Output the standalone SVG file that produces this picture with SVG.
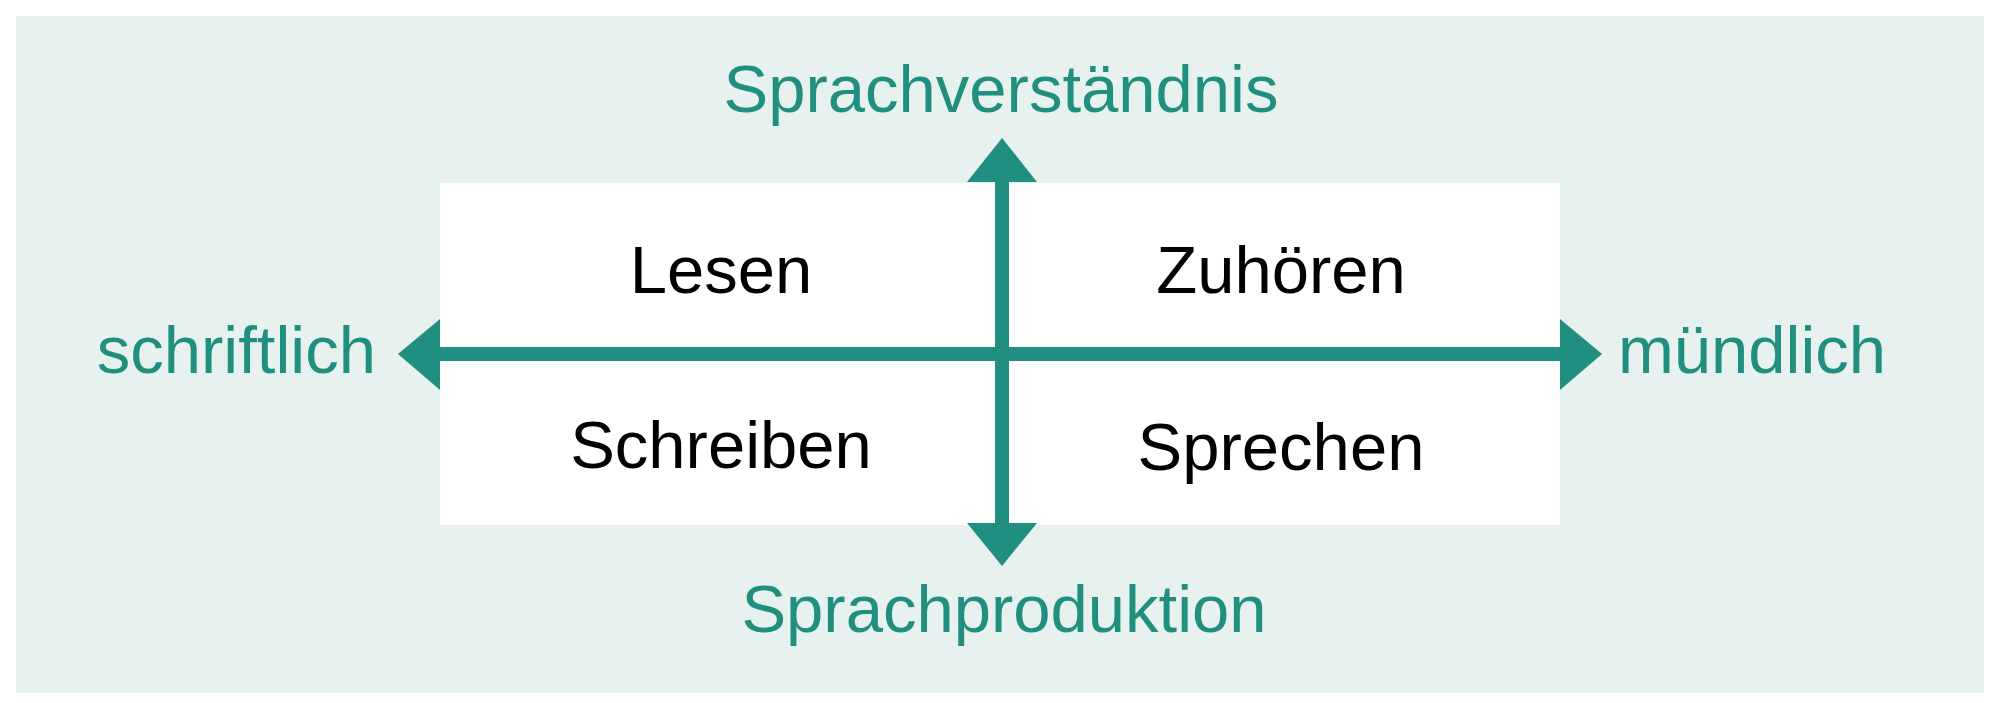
<svg xmlns="http://www.w3.org/2000/svg" width="2000" height="703" viewBox="0 0 2000 703">
<style>
.q{fill:#ffffff;}
.lbl{font-family:"Liberation Sans",Arial,sans-serif;font-size:67px;fill:#000000;text-anchor:middle;}
.ax{font-family:"Liberation Sans",Arial,sans-serif;font-size:67px;fill:#208f7f;}
.shaft{stroke:#208f7f;stroke-width:14;fill:none;}
.head{fill:#208f7f;}
</style>
<rect x="16" y="16" width="1968" height="677" fill="#e7f1ef"/>
<g id="lesen"><rect class="q" x="440" y="183" width="562" height="171"/><text class="lbl" x="721" y="293">Lesen</text></g>
<g id="zuhoeren"><rect class="q" x="1002" y="183" width="558" height="171"/><text class="lbl" x="1281" y="293">Zuhören</text></g>
<g id="schreiben"><rect class="q" x="440" y="354" width="562" height="171"/><text class="lbl" x="721" y="468">Schreiben</text></g>
<g id="sprechen"><rect class="q" x="1002" y="354" width="558" height="171"/><text class="lbl" x="1281" y="470">Sprechen</text></g>
<g id="connectors">
<line class="shaft" x1="440" y1="354" x2="1560" y2="354"/>
<line class="shaft" x1="1002" y1="181" x2="1002" y2="524"/>
<polygon class="head" points="1002,138 1037,182 967,182"/>
<polygon class="head" points="1002,566 1037,523 967,523"/>
<polygon class="head" points="398,354 440,319 440,390"/>
<polygon class="head" points="1602,354 1560,319 1560,390"/>
</g>
<g id="sprachverstaendnis"><text class="ax" x="1001" y="112" text-anchor="middle">Sprachverständnis</text></g>
<g id="sprachproduktion"><text class="ax" x="1004" y="632" text-anchor="middle">Sprachproduktion</text></g>
<g id="schriftlich"><text class="ax" x="376" y="373" text-anchor="end">schriftlich</text></g>
<g id="muendlich"><text class="ax" x="1618" y="373">mündlich</text></g>
</svg>
